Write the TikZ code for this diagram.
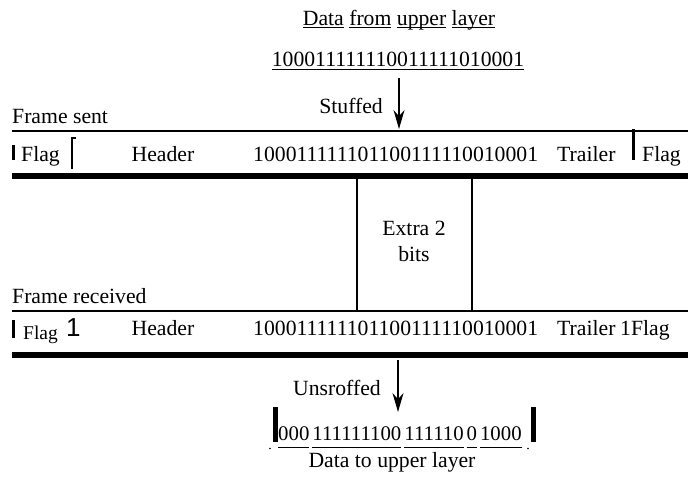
\documentclass[tikz,border=0pt]{standalone}
\usepackage{fontspec}
\setmainfont{Liberation Serif}
\newfontfamily\armone{Liberation Sans}
\usetikzlibrary{arrows.meta}
\newcommand\ulat[2]{\setbox0\hbox{#2}\rlap{\raisebox{-#1}{\rule{\wd0}{0.9pt}}}\box0\relax}
\begin{document}
\begin{tikzpicture}[x=1pt,y=-1pt,
  txt/.style={inner sep=0pt, font=\fontsize{21.7}{26}\selectfont},
  small/.style={inner sep=0pt, font=\fontsize{19.5}{22}\selectfont},
  thinrule/.style={line width=1.5pt},
  thickrule/.style={line width=6pt},
  bar/.style={line width=3pt},
  fatbar/.style={line width=5pt},
  divider/.style={line width=2.5pt},
  downarrow/.style={line width=1.2pt, -{Stealth[length=19pt,width=11pt]}}]
\useasboundingbox (0,0) rectangle (688,483);
% top
\node[txt, anchor=base] (title) at (399,25) {\ulat{3pt}{Data} \ulat{3pt}{from} \ulat{3pt}{upper} \ulat{3pt}{layer}};
\node[txt, anchor=base] (data) at (398,66) {\ulat{3.5pt}{100011111110011111010001}};
\coordinate (a1s) at (399,78);
\coordinate (a1e) at (399,129);
\draw[downarrow] (a1s) -- (a1e);
\node[txt, anchor=base east] (stuffed) at (383,113) {Stuffed};
\node[txt, anchor=base west] (sent) at (12,123) {Frame sent};
% frame sent
\draw[thinrule] (12,131) -- (688,131);
\draw[bar] (13,145) -- (13,160);
\node[txt, anchor=base west] (flag1) at (21,161) {Flag};
\draw[line width=1.6pt] (76,138) -- (72,138) -- (72,169);
\node[txt, anchor=base] (hdr1) at (163,161) {Header};
\node[txt, anchor=base west] (bits1) at (253,161) {100011111101100111110010001};
\node[txt, anchor=base west] (trl1) at (557,161) {Trailer};
\draw[bar] (633,129) -- (633,160);
\node[txt, anchor=base west] (flag2) at (642,161) {Flag};
\draw[thickrule] (12,176) -- (688,176);
% extra bits
\draw[divider] (357,176) -- (357,311);
\draw[divider] (472,176) -- (472,311);
\node[txt, anchor=base] (extra) at (414,235) {Extra 2};
\node[txt, anchor=base] (bitsw) at (414,261) {bits};
% frame received
\node[txt, anchor=base west] (recv) at (12,303) {Frame received};
\draw[thinrule] (12,311) -- (688,311);
\draw[bar] (13,320) -- (13,338);
\node[small, anchor=base west] (flag3) at (23,339) {Flag};
\node[inner sep=0pt, anchor=base west, font=\armone\fontsize{26}{28}\selectfont] (one) at (66,336) {1};
\node[txt, anchor=base] (hdr2) at (163,335) {Header};
\node[txt, anchor=base west] (bits2) at (253,335) {100011111101100111110010001};
\node[txt, anchor=base west] (trl2) at (557,335) {Trailer};
\node[txt, anchor=base west] (flag4) at (620,335) {1Flag};
\draw[thickrule] (12,355) -- (688,355);
% bottom
\coordinate (a2s) at (398,360);
\coordinate (a2e) at (398,412);
\draw[downarrow] (a2s) -- (a2e);
\node[txt, anchor=base west] (unst) at (293,395) {Unsroffed};
\draw[fatbar] (275,407) -- (275,442);
\draw[fatbar] (533,407) -- (533,442);
\node[inner sep=0pt, font=\fontsize{20.8}{24}\selectfont, anchor=base west] (out) at (278,440) {\ulat{8pt}{000}\hspace{3pt}\ulat{8pt}{111111100}\hspace{3pt}\ulat{8pt}{111110}\hspace{3pt}\ulat{8pt}{0}\hspace{3pt}\ulat{8pt}{1000}};
\fill (270,448.5) circle (0.8);
\fill (528,448.5) circle (0.8);
\node[txt, anchor=base] (up) at (392,467) {Data to upper layer};
\end{tikzpicture}
\end{document}
